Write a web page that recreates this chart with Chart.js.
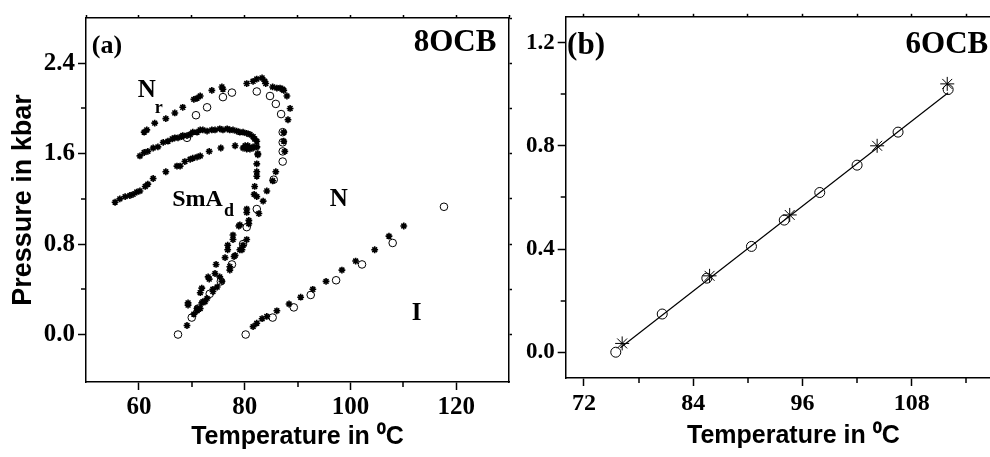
<!DOCTYPE html>
<html>
<head>
<meta charset="utf-8">
<script src="https://cdn.jsdelivr.net/npm/chart.js@4.4.1/dist/chart.umd.min.js"></script>
<style>
  html, body { margin: 0; padding: 0; background: #fff; overflow: hidden; width: 990px; height: 457px; }
  canvas { position: absolute; top: 0; }
  #chartA { left: 0; }
  #chartB { left: 520px; }
</style>
</head>
<body>
<canvas id="chartA" width="520" height="457"></canvas>
<canvas id="chartB" width="510" height="457"></canvas>
<script>
// ---- panel (a) 8OCB : asterisks ----
const upperStarT = [61.0, 61.5, 63.0, 65.1, 66.8, 68.3, 70.4, 71.0, 71.6, 73.8, 75.7, 75.9, 80.4, 81.6, 82.3, 83.3, 83.8, 84.0, 85.3, 86.1, 86.7, 87.2, 87.4, 88.0, 88.6, 88.2, 87.4, 87.4, 87.6, 85.9, 85.3, 84.2, 83.5, 82.7]
const upperStarP = [1.79, 1.81, 1.87, 1.91, 1.96, 2.01, 2.08, 2.09, 2.11, 2.16, 2.19, 2.17, 2.22, 2.24, 2.26, 2.27, 2.24, 2.22, 2.19, 2.18, 2.18, 2.17, 2.16, 2.11, 2.00, 1.90, 1.79, 1.71, 1.62, 1.44, 1.36, 1.27, 1.18, 1.07]
const midStarT = [60.2, 61.0, 61.7, 62.7, 63.6, 64.6, 65.5, 66.3, 66.8, 67.4, 68.1, 68.3, 69.1, 69.7, 70.2, 71.0, 71.6, 72.1, 72.9, 73.8, 74.4, 75.3, 75.9, 76.7, 77.2, 77.8, 78.5, 79.1, 79.7, 80.4, 81.0, 81.6, 81.9, 82.3, 82.3, 81.6, 81.0, 80.4, 79.7, 82.5]
const midStarP = [1.58, 1.61, 1.62, 1.65, 1.66, 1.70, 1.71, 1.73, 1.74, 1.74, 1.75, 1.76, 1.76, 1.77, 1.79, 1.79, 1.81, 1.81, 1.80, 1.81, 1.81, 1.82, 1.81, 1.82, 1.81, 1.81, 1.80, 1.79, 1.79, 1.78, 1.77, 1.75, 1.73, 1.71, 1.66, 1.65, 1.64, 1.64, 1.65, 1.60]
const lowStarT = [55.5, 56.4, 57.4, 58.3, 58.9, 59.6, 60.2, 61.2, 61.7, 62.7, 65.1, 67.2, 67.8, 68.7, 69.7, 70.2, 71.0, 71.6, 73.3, 75.5, 78.2, 80.1, 80.6, 81.6, 82.3]
const lowStarP = [1.17, 1.20, 1.22, 1.23, 1.24, 1.26, 1.27, 1.31, 1.33, 1.38, 1.44, 1.49, 1.49, 1.53, 1.55, 1.56, 1.57, 1.58, 1.62, 1.65, 1.67, 1.67, 1.67, 1.66, 1.66]
const smaStarT = [82.5, 82.3, 82.3, 82.3, 81.9, 81.8, 82.3, 80.4, 80.4, 79.1, 80.8, 80.8, 80.4, 79.7, 79.1, 77.8, 77.8, 76.8, 76.8, 78.0, 76.3, 77.2, 74.6, 74.4, 75.3, 73.1, 73.3, 74.8, 74.0, 71.9, 71.6, 72.9, 72.1, 71.9, 71.0, 71.0, 69.3, 69.3, 69.1, 71.6, 72.5, 74.0, 75.7, 77.2, 78.2, 79.5, 78.9, 70.4]
const smaStarP = [1.59, 1.51, 1.44, 1.40, 1.31, 1.24, 1.22, 1.11, 1.08, 0.97, 1.01, 0.98, 0.84, 0.79, 0.75, 0.88, 0.84, 0.79, 0.75, 0.69, 0.68, 0.60, 0.62, 0.54, 0.51, 0.51, 0.49, 0.42, 0.40, 0.41, 0.37, 0.32, 0.29, 0.28, 0.23, 0.21, 0.28, 0.26, 0.08, 0.23, 0.29, 0.38, 0.47, 0.57, 0.70, 0.75, 0.96, 0.18]
const niStarT = [81.6, 82.3, 83.3, 84.2, 86.1, 88.4, 90.6, 92.9, 95.4, 98.4, 101.0, 104.6, 107.3, 110.1]
const niStarP = [0.07, 0.10, 0.14, 0.16, 0.21, 0.27, 0.33, 0.40, 0.47, 0.57, 0.65, 0.75, 0.87, 0.96]
// ---- panel (a) : open circles ----
const loopCircT = [70.8, 72.9, 75.9, 77.6, 82.3, 84.8, 85.9, 86.9, 87.2, 87.2, 87.2, 87.2, 85.5, 82.3, 80.4, 79.7, 77.6, 75.5, 73.4, 71.2, 70.0, 67.4, 69.1]
const loopCircP = [1.94, 2.01, 2.10, 2.14, 2.15, 2.11, 2.04, 1.95, 1.79, 1.70, 1.62, 1.53, 1.37, 1.11, 0.95, 0.80, 0.62, 0.47, 0.36, 0.23, 0.15, 0.00, 1.74]
const niCircT = [80.2, 85.3, 89.3, 92.5, 97.3, 102.2, 108.0, 117.7]
const niCircP = [0.00, 0.15, 0.24, 0.35, 0.48, 0.62, 0.81, 1.13]
const tempTicksA = [60, 80, 100, 120]
const tempMinorA = [70, 90, 110]
const pressTicksA = [0, 0.8, 1.6, 2.4]
const pressMinorA = [0.4, 1.2, 2.0]

// ---- panel (b) 6OCB ----
const circT = [75.5, 80.6, 85.5, 90.4, 94.0, 97.9, 102.0, 106.5, 112.0]
const circP = [0.0, 0.148, 0.287, 0.41, 0.512, 0.619, 0.725, 0.853, 1.018]
const starT = [76.2, 85.8, 94.6, 104.2, 111.9]
const starP = [0.034, 0.296, 0.532, 0.80, 1.04]
const fitT = [76.0, 112.0]
const fitP = [0.017, 1.006]
const tempTicksB = [72, 84, 96, 108]
const tempMinorB = [78, 90, 102, 114]
const pressTicksB = [0, 0.4, 0.8, 1.2]
const pressMinorB = [0.2, 0.6, 1.0]

const pts = (xs, ys) => xs.map((x, i) => ({x: x, y: ys[i]}))
const serif = 'Liberation Serif'
const sans = 'Liberation Sans'

// minor ticks + in-plot labels
const extras = {
  id: 'extras',
  afterDraw(chart, args, opts) {
    const {ctx, chartArea, scales} = chart
    ctx.save()
    ctx.strokeStyle = '#000'
    ctx.lineWidth = 1.5
    opts.minorX.forEach(v => {
      const px = Math.round(scales.x.getPixelForValue(v))
      ctx.beginPath(); ctx.moveTo(px, chartArea.bottom); ctx.lineTo(px, chartArea.bottom + 5); ctx.stroke()
    })
    opts.minorY.forEach(v => {
      const py = Math.round(scales.y.getPixelForValue(v))
      ctx.beginPath(); ctx.moveTo(chartArea.left, py); ctx.lineTo(chartArea.left - 5, py); ctx.stroke()
    })
    ctx.fillStyle = '#000'
    ctx.textBaseline = 'alphabetic'
    opts.labels.forEach(l => {
      ctx.font = 'bold ' + l.size + 'px "' + serif + '"'
      ctx.textAlign = l.align || 'left'
      ctx.fillText(l.text, scales.x.getPixelForValue(l.x), scales.y.getPixelForValue(l.y))
    })
    ctx.restore()
  }
}

function tickSetter(values) {
  return s => { s.ticks = values.map(v => ({value: v})) }
}

function axis(pos, min, max, major, size, opt) {
  const horiz = pos === 'top' || pos === 'bottom'
  return {
    type: 'linear', position: pos, min: min, max: max,
    afterBuildTicks: tickSetter(major),
    afterFit: s => { if (horiz) s.height = size; else s.width = size },
    border: {color: '#000', width: 1.5},
    grid: {drawOnChartArea: false, color: '#000', tickColor: '#000', tickWidth: 1.5, tickLength: opt.tickLength || 8},
    ticks: {
      display: !!opt.labels, autoSkip: false, maxRotation: 0, color: '#000', padding: opt.padding || 3,
      font: {family: serif, weight: 'bold', size: opt.fontSize || 25},
      callback: v => opt.fmt ? opt.fmt(v) : v
    },
    title: opt.title ? {display: true, text: opt.title, color: '#000',
      font: {family: sans, weight: 'bold', size: opt.titleSize}, padding: opt.titlePad} : {display: false}
  }
}

const starStyle = {pointStyle: 'star', pointRadius: 3.4, borderColor: '#000', borderWidth: 1.6, showLine: false}
const circStyle = {pointStyle: 'circle', pointRadius: 3.8, borderColor: '#000', backgroundColor: 'rgba(0,0,0,0)', borderWidth: 1, showLine: false}

const ctxA = document.getElementById('chartA').getContext('2d')
const chartA = new Chart(ctxA, {
  type: 'scatter',
  data: {
    datasets: [
      Object.assign({data: pts(upperStarT, upperStarP)}, starStyle),
      Object.assign({data: pts(midStarT, midStarP)}, starStyle),
      Object.assign({data: pts(lowStarT, lowStarP)}, starStyle),
      Object.assign({data: pts(smaStarT, smaStarP)}, starStyle),
      Object.assign({data: pts(niStarT, niStarP)}, starStyle),
      Object.assign({data: pts(loopCircT, loopCircP)}, circStyle),
      Object.assign({data: pts(niCircT, niCircP)}, circStyle)
    ]
  },
  options: {
    responsive: false, animation: false, devicePixelRatio: 1,
    layout: {padding: 0},
    plugins: {
      legend: {display: false}, tooltip: {enabled: false},
      extras: {
        minorX: tempMinorA, minorY: pressMinorA,
        labels: [
          {text: '(a)', x: 51.1, y: 2.49, size: 26},
          {text: '8OCB', x: 127.6, y: 2.505, size: 31, align: 'right'},
          {text: 'N', x: 59.8, y: 2.10, size: 25},
          {text: 'r', x: 63.0, y: 1.96, size: 18},
          {text: 'SmA', x: 66.3, y: 1.135, size: 24},
          {text: 'd', x: 76.1, y: 1.045, size: 18},
          {text: 'N', x: 96.1, y: 1.135, size: 25},
          {text: 'I', x: 111.6, y: 0.13, size: 25}
        ]
      }
    },
    scales: {
      x: axis('bottom', 50, 130, tempTicksA, 75, {labels: true, title: 'Temperature in \u2070C', titleSize: 25, titlePad: {top: 0, bottom: 5}}),
      y: axis('left', -0.42, 2.8, pressTicksA, 86, {labels: true, fmt: v => v.toFixed(1), title: 'Pressure in kbar', titleSize: 27, titlePad: {top: 7, bottom: 0}}),
      xTop: axis('top', 50, 130, [50, 60, 70, 80, 90, 100, 110, 120, 130], 11, {tickLength: 3}),
      yRight: axis('right', -0.42, 2.8, [0, 0.4, 0.8, 1.2, 1.6, 2.0, 2.4, 2.8], 11, {tickLength: 3})
    }
  },
  plugins: [extras]
})

const ctxB = document.getElementById('chartB').getContext('2d')
const chartB = new Chart(ctxB, {
  type: 'scatter',
  data: {
    datasets: [
      {data: pts(fitT, fitP), showLine: true, borderColor: '#000', borderWidth: 1.2, pointRadius: 0, fill: false},
      Object.assign({}, circStyle, {data: pts(circT, circP), pointRadius: 5}),
      Object.assign({}, starStyle, {data: pts(starT, starP), pointRadius: 7, borderWidth: 1})
    ]
  },
  options: {
    responsive: false, animation: false, devicePixelRatio: 1,
    layout: {padding: {right: 9}},
    plugins: {
      legend: {display: false}, tooltip: {enabled: false},
      extras: {
        minorX: tempMinorB, minorY: pressMinorB,
        labels: [
          {text: '(b)', x: 70.15, y: 1.155, size: 31},
          {text: '6OCB', x: 116.4, y: 1.16, size: 31, align: 'right'}
        ]
      }
    },
    scales: {
      x: axis('bottom', 70, 120, tempTicksB, 79, {labels: true, fontSize: 24, title: 'Temperature in \u2070C', titleSize: 25, titlePad: {top: 0, bottom: 6}}),
      y: axis('left', -0.1, 1.3, pressTicksB, 45.7, {labels: true, fontSize: 23, fmt: v => v.toFixed(1)}),
      xTop: axis('top', 70, 120, [72, 78, 84, 90, 96, 102, 108, 114, 120], 16, {tickLength: 3})
    }
  },
  plugins: [extras]
})
</script>
</body>
</html>
